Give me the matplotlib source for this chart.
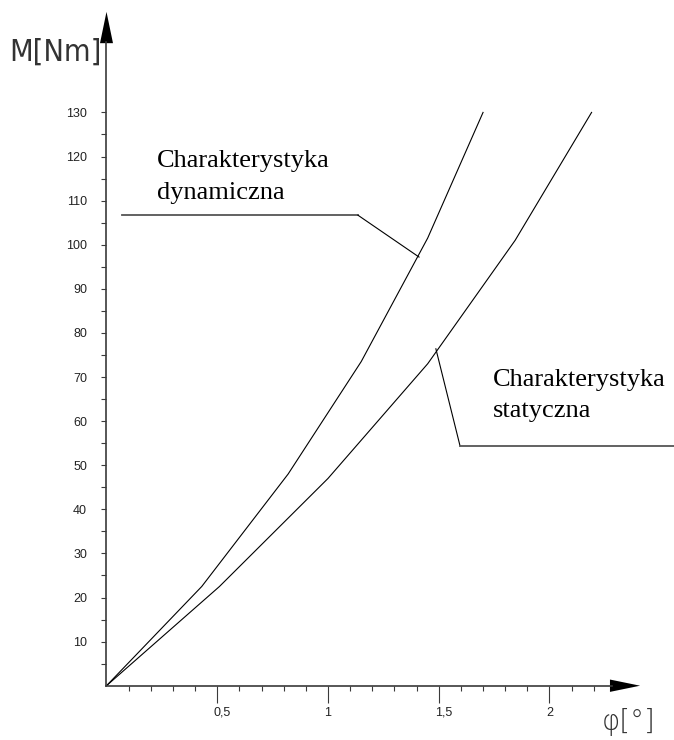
import numpy as np
import matplotlib
matplotlib.use("Agg")
import matplotlib.pyplot as plt
from matplotlib.transforms import ScaledTranslation

# --- dane ---
phi_dyn = [0, 0.43, 0.82, 1.15, 1.45, 1.70]
M_dyn = [0, 22.5, 48, 73.5, 101.5, 130]

phi_stat = [0, 0.51, 1.0, 1.45, 1.845, 2.19]
M_stat = [0, 22.5, 47, 73, 101, 130]

x_major = [0.5, 1, 1.5, 2]
x_labels = ["0,5", "1", "1,5", "2"]
x_minor = [0.1, 0.2, 0.3, 0.4, 0.6, 0.7, 0.8, 0.9, 1.1, 1.2, 1.3, 1.4,
           1.6, 1.7, 1.8, 1.9, 2.1, 2.2]
y_major = [10, 20, 30, 40, 50, 60, 70, 80, 90, 100, 110, 120, 130]
y_minor = [5, 15, 25, 35, 45, 55, 65, 75, 85, 95, 105, 115, 125]

# linie odniesienia do opisow
lead_dyn_x = [0.07, 1.135, 1.411]
lead_dyn_y = [106.7, 106.7, 97.2]
lead_stat_x = [1.487, 1.596, 2.562]
lead_stat_y = [76.4, 54.4, 54.4]

fig = plt.figure(figsize=(6.74, 7.4), dpi=100)
ax = fig.add_axes([0, 0, 1, 1])
ax.set_xlim(-0.4808, 2.5621)
ax.set_ylim(-12.31, 155.49)

# --- osie ---
axis_col = "#3a3a3a"
for side in ["top", "right"]:
    ax.spines[side].set_visible(False)
ax.spines["left"].set_position(("data", 0))
ax.spines["bottom"].set_position(("data", 0))
ax.spines["left"].set_bounds(0, 146)
ax.spines["bottom"].set_bounds(0, 2.28)
for side in ["left", "bottom"]:
    ax.spines[side].set_color(axis_col)
    ax.spines[side].set_linewidth(1.2)

ax.fill([-0.0293, 0, 0.0293], [145.7, 152.8, 145.7], color="black", lw=0, clip_on=False)
ax.fill([2.273, 2.409, 2.273], [-1.4, 0, 1.4], color="black", lw=0, clip_on=False)

ax.set_xticks(x_major, x_labels)
ax.set_xticks(x_minor, minor=True)
ax.set_yticks(y_major, [str(v) for v in y_major])
ax.set_yticks(y_minor, minor=True)

ax.tick_params(axis="x", which="major", direction="out", length=12.2, width=0.8,
               color=axis_col, pad=3, labelsize=9)
ax.tick_params(axis="x", which="minor", direction="out", length=3.6, width=0.8,
               color=axis_col)
ax.tick_params(axis="y", which="both", direction="out", length=3.6, width=0.8,
               color=axis_col)
ax.tick_params(axis="y", which="major", pad=10.4, labelsize=9)

for lab in ax.get_xticklabels() + ax.get_yticklabels():
    lab.set_fontfamily("Liberation Sans")
    lab.set_color("#222222")
# etykiety z przecinkiem: pierwsza cyfra pod kreska
for lab in ax.get_xticklabels():
    if "," in lab.get_text():
        lab.set_horizontalalignment("left")
        lab.set_transform(lab.get_transform() + ScaledTranslation(-3.5 / 100, 0, fig.dpi_scale_trans))

# --- krzywe ---
ax.plot(phi_dyn, M_dyn, color="black", lw=0.8)
ax.plot(phi_stat, M_stat, color="black", lw=0.8)

ax.plot(lead_dyn_x[:2], lead_dyn_y[:2], color="#555555", lw=1.3)
ax.plot(lead_dyn_x[1:], lead_dyn_y[1:], color="black", lw=0.8)
ax.plot(lead_stat_x[:2], lead_stat_y[:2], color="black", lw=0.8)
ax.plot(lead_stat_x[1:], lead_stat_y[1:], color="#555555", lw=1.3, clip_on=False)

serif = dict(family="Liberation Serif", fontsize=19, color="black", va="baseline", ha="left")
ax.text(0.228, 117.6, "Charakterystyka", **serif)
ax.text(0.228, 110.4, "dynamiczna", **serif)
ax.text(1.745, 68.0, "Charakterystyka", **serif)
ax.text(1.745, 60.9, "statyczna", **serif)

# opisy osi
ax.text(-0.2325, 143.7, "M[Nm]", family="DejaVu Sans", fontweight="light",
        fontstretch="condensed", fontsize=22, color="#333333", ha="center", va="center")
ax.text(2.357, -8.2, "φ[°]", family="DejaVu Sans", fontweight="light",
        fontsize=20, color="#333333", ha="center", va="center")

fig.savefig("out.png", dpi=100)
